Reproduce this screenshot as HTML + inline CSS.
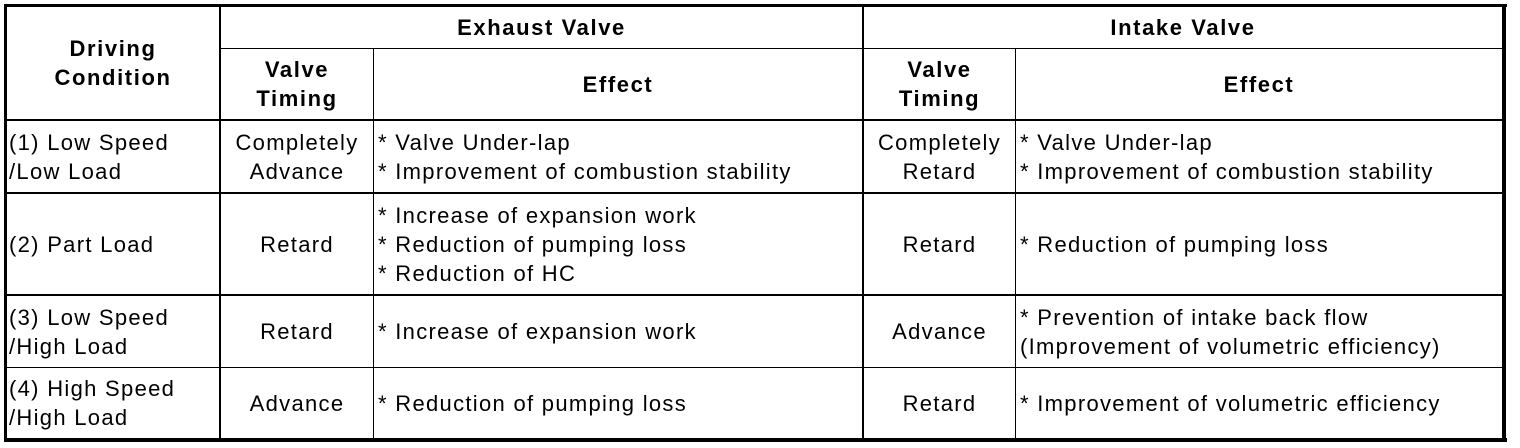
<!DOCTYPE html>
<html><head><meta charset="utf-8"><style>
html,body{margin:0;padding:0;background:#fff;width:1520px;height:448px;overflow:hidden}
body{position:relative;font-family:"Liberation Sans",Arial,sans-serif;font-size:22px;letter-spacing:1.3px;color:#000}
.l{position:absolute;background:#000}
.c{position:absolute;display:flex;flex-direction:column;justify-content:center;line-height:29px;white-space:nowrap}
.ct{align-items:center;text-align:center}
.b{font-weight:bold;letter-spacing:1.6px}
</style></head><body>
<div class="l" style="left:4px;top:4px;width:1503px;height:3px"></div>
<div class="l" style="left:4px;top:438px;width:1503px;height:4px"></div>
<div class="l" style="left:4px;top:4px;width:3px;height:438px"></div>
<div class="l" style="left:1502px;top:4px;width:4px;height:438px"></div>
<div class="l" style="left:219px;top:7px;width:2px;height:431px"></div>
<div class="l" style="left:862px;top:7px;width:2px;height:431px"></div>
<div class="l" style="left:373px;top:48px;width:1px;height:390px"></div>
<div class="l" style="left:1015px;top:48px;width:1px;height:390px"></div>
<div class="l" style="left:220px;top:48px;width:1282px;height:1px"></div>
<div class="l" style="left:7px;top:119px;width:1495px;height:2px"></div>
<div class="l" style="left:7px;top:192px;width:1495px;height:2px"></div>
<div class="l" style="left:7px;top:294px;width:1495px;height:2px"></div>
<div class="l" style="left:7px;top:367px;width:1495px;height:1px"></div>

<div class="c ct b" style="left:7px;top:7px;width:212px;height:112px"><div>Driving</div><div>Condition</div></div>
<div class="c ct b" style="left:221px;top:7px;width:641px;height:41px">Exhaust Valve</div>
<div class="c ct b" style="left:864px;top:7px;width:638px;height:41px">Intake Valve</div>
<div class="c ct b" style="left:221px;top:49px;width:152px;height:70px"><div>Valve</div><div>Timing</div></div>
<div class="c ct b" style="left:374px;top:49px;width:488px;height:70px">Effect</div>
<div class="c ct b" style="left:864px;top:49px;width:151px;height:70px"><div>Valve</div><div>Timing</div></div>
<div class="c ct b" style="left:1016px;top:49px;width:486px;height:70px">Effect</div>

<div class="c" style="left:9px;top:121px;height:71px"><div>(1) Low Speed</div><div>/Low Load</div></div>
<div class="c ct" style="left:221px;top:121px;width:152px;height:71px"><div>Completely</div><div>Advance</div></div>
<div class="c" style="left:378px;top:121px;height:71px"><div>* Valve Under-lap</div><div>* Improvement of combustion stability</div></div>
<div class="c ct" style="left:864px;top:121px;width:151px;height:71px"><div>Completely</div><div>Retard</div></div>
<div class="c" style="left:1020px;top:121px;height:71px"><div>* Valve Under-lap</div><div>* Improvement of combustion stability</div></div>

<div class="c" style="left:9px;top:194px;height:100px">(2) Part Load</div>
<div class="c ct" style="left:221px;top:194px;width:152px;height:100px">Retard</div>
<div class="c" style="left:378px;top:194px;height:100px"><div>* Increase of expansion work</div><div>* Reduction of pumping loss</div><div>* Reduction of HC</div></div>
<div class="c ct" style="left:864px;top:194px;width:151px;height:100px">Retard</div>
<div class="c" style="left:1020px;top:194px;height:100px">* Reduction of pumping loss</div>

<div class="c" style="left:9px;top:296px;height:71px"><div>(3) Low Speed</div><div>/High Load</div></div>
<div class="c ct" style="left:221px;top:296px;width:152px;height:71px">Retard</div>
<div class="c" style="left:378px;top:296px;height:71px">* Increase of expansion work</div>
<div class="c ct" style="left:864px;top:296px;width:151px;height:71px">Advance</div>
<div class="c" style="left:1020px;top:296px;height:71px"><div>* Prevention of intake back flow</div><div>(Improvement of volumetric efficiency)</div></div>

<div class="c" style="left:9px;top:368px;height:70px"><div>(4) High Speed</div><div>/High Load</div></div>
<div class="c ct" style="left:221px;top:368px;width:152px;height:70px">Advance</div>
<div class="c" style="left:378px;top:368px;height:70px">* Reduction of pumping loss</div>
<div class="c ct" style="left:864px;top:368px;width:151px;height:70px">Retard</div>
<div class="c" style="left:1020px;top:368px;height:70px">* Improvement of volumetric efficiency</div>
</body></html>
